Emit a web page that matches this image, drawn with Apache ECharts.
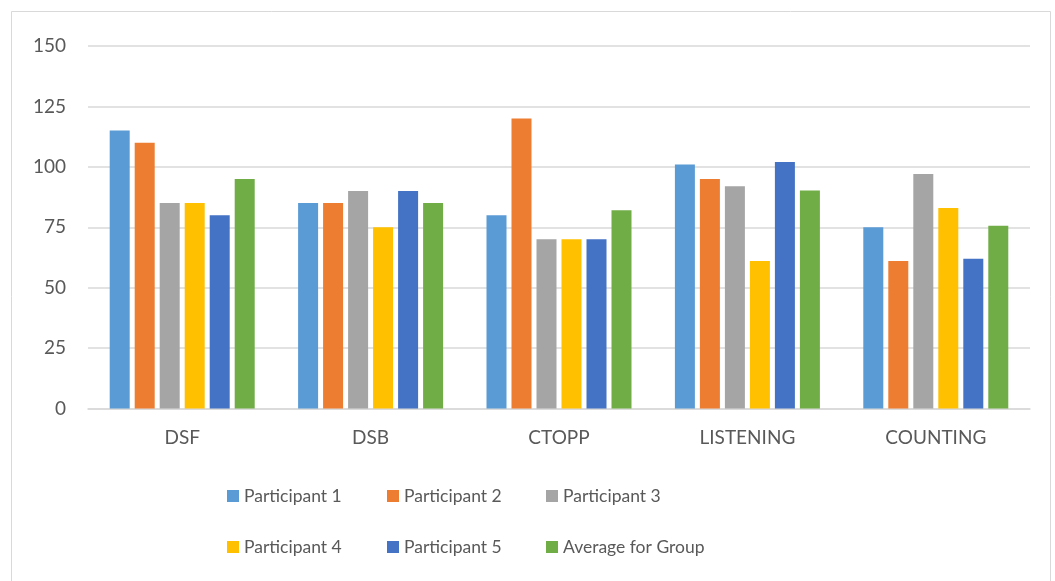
<!DOCTYPE html>
<html>
<head>
<meta charset="utf-8">
<script src="https://cdn.jsdelivr.net/npm/echarts@6/dist/echarts.min.js"></script>
<style>
  html, body { margin: 0; padding: 0; background: #fff; }
  #chart { width: 1055px; height: 581px; }
</style>
</head>
<body>
<div id="chart"></div>
<script>
// tests on the x axis
var categories = ['DSF', 'DSB', 'CTOPP', 'LISTENING', 'COUNTING'];

// scores
var participant1 = [115, 85, 80, 101, 75];
var participant2 = [110, 85, 120, 95, 61];
var participant3 = [85, 90, 70, 92, 97];
var participant4 = [85, 75, 70, 61, 83];
var participant5 = [80, 90, 70, 102, 62];
var groupAverage = [95, 85, 82, 90.2, 75.6];

var seriesNames = ['Participant 1', 'Participant 2', 'Participant 3',
                   'Participant 4', 'Participant 5', 'Average for Group'];
var seriesData = [participant1, participant2, participant3,
                  participant4, participant5, groupAverage];
var colors = ['#5B9BD5', '#ED7D31', '#A5A5A5', '#FFC000', '#4472C4', '#70AD47'];

var font = 'Lato, "Open Sans", sans-serif';

var series = seriesNames.map(function (name, i) {
  return {
    name: name,
    type: 'bar',
    data: seriesData[i],
    barWidth: 20,
    barGap: '25%',
    itemStyle: { color: colors[i] }
  };
});

// legend laid out as a 3x2 table, one legend per cell
var legendLeft = [227, 387, 546];
var legendTop = [487, 538];
var legends = seriesNames.map(function (name, i) {
  return {
    data: [name],
    left: legendLeft[i % 3],
    top: legendTop[Math.floor(i / 3)],
    padding: 0,
    icon: 'rect',
    itemWidth: 12,
    itemHeight: 12,
    textStyle: { fontFamily: font, fontSize: 17.5, color: '#595959' }
  };
});

var chart = echarts.init(document.getElementById('chart'));
chart.setOption({
  animation: false,
  color: colors,
  graphic: [{
    type: 'rect',
    shape: { x: 11.5, y: 11.5, width: 1039, height: 600 },
    style: { fill: 'none', stroke: '#d9d9d9', lineWidth: 1 }
  }],
  grid: { left: 88, right: 25, top: 46, bottom: 172.5 },
  legend: legends,
  xAxis: {
    type: 'category',
    data: categories,
    axisTick: { show: false },
    axisLine: { lineStyle: { color: '#d9d9d9', width: 1.5 } },
    axisLabel: { fontFamily: font, fontSize: 19, color: '#595959', margin: 20 }
  },
  yAxis: {
    type: 'value',
    min: 0,
    max: 150,
    interval: 25,
    axisLine: { show: false },
    axisTick: { show: false },
    splitLine: { lineStyle: { color: '#d9d9d9', width: 1.5 } },
    axisLabel: { fontFamily: font, fontSize: 19, color: '#595959', margin: 22 }
  },
  series: series
});
</script>
</body>
</html>
